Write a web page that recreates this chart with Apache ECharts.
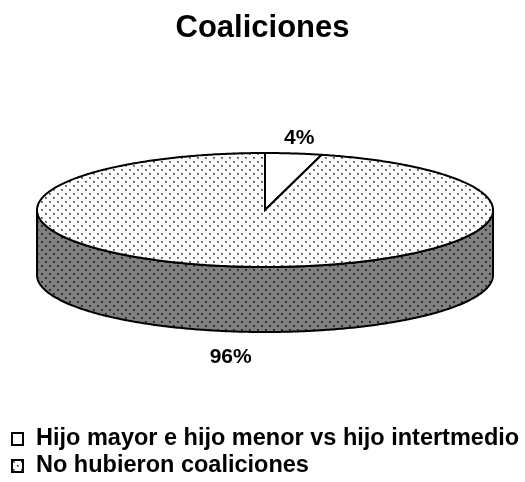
<!DOCTYPE html>
<html>
<head>
<meta charset="utf-8">
<script src="https://cdn.jsdelivr.net/npm/echarts@6/dist/echarts.min.js"></script>
<style>
html,body{margin:0;padding:0;background:#fff;}
#chart{width:525px;height:482px;}
</style>
</head>
<body>
<div id="chart"></div>
<script>
// ---- data ----
const titleText = 'Coaliciones';
const categories = ['Hijo mayor e hijo menor vs hijo intertmedio', 'No hubieron coaliciones'];
const values = [4, 96];

// ---- layout constants (geometry of the 3D pie) ----
const CX = 265, CY = 210, RX = 228, RY = 57, DEPTH = 65;
const FONT = '"Liberation Sans", Arial, Helvetica, sans-serif';

function makePattern(bg, dot, halo) {
  const c = document.createElement('canvas');
  c.width = 8; c.height = 8;
  const g = c.getContext('2d');
  g.fillStyle = bg; g.fillRect(0, 0, 8, 8);
  [[1, 1], [5, 5]].forEach(([x, y]) => {
    g.fillStyle = halo; g.fillRect(x, y, 2, 2);
    g.fillStyle = dot; g.fillRect(x, y, 1, 1);
  });
  return { image: c, repeat: 'repeat' };
}
const topPattern = makePattern('#ffffff', '#333333', '#8a8a8a');
const sidePattern = makePattern('#808080', '#111111', '#3c3c3c');
const topFills = ['#ffffff', topPattern];
const sideFills = ['#ffffff', sidePattern];

const total = values.reduce((a, b) => a + b, 0);

function ept(t) { return [CX + RX * Math.sin(t), CY - RY * Math.cos(t)]; }
function arc(t0, t1) {
  const pts = [];
  const n = Math.max(2, Math.ceil(Math.abs(t1 - t0) / 0.01));
  for (let i = 0; i <= n; i++) pts.push(ept(t0 + (t1 - t0) * i / n));
  return pts;
}

function renderItem(params, api) {
  const idx = params.seriesIndex;
  let before = 0;
  for (let i = 0; i < idx; i++) before += values[i];
  const v = api.value(0);
  const t0 = before / total * 2 * Math.PI;
  const t1 = (before + v) / total * 2 * Math.PI;
  const children = [];
  // side wall (front visible part: 90deg .. 270deg)
  const s0 = Math.max(t0, Math.PI / 2), s1 = Math.min(t1, 3 * Math.PI / 2);
  if (s1 > s0) {
    const topArc = arc(s0, s1);
    const bottomArc = topArc.slice().reverse().map(p => [p[0], p[1] + DEPTH]);
    children.push({
      type: 'polygon',
      shape: { points: topArc.concat(bottomArc) },
      style: { fill: sideFills[idx], stroke: '#000', lineWidth: 2, lineJoin: 'round' }
    });
  }
  // top face
  const pts = [[CX, CY]].concat(arc(t0, t1));
  children.push({
    type: 'polygon',
    shape: { points: pts },
    style: { fill: topFills[idx], stroke: '#000', lineWidth: 2, lineJoin: 'miter' }
  });
  // label
  const tm = (t0 + t1) / 2;
  const s = Math.sin(tm), c = Math.cos(tm);
  const lx = CX + 1.2 * RX * s;
  const ly = c >= 0 ? CY - RY * c - 15 : CY - RY * c + DEPTH + 26;
  children.push({
    type: 'text',
    style: {
      text: Math.round(v / total * 100) + '%',
      x: lx, y: ly, align: 'center', verticalAlign: 'middle',
      fontSize: 21, fontWeight: 'bold', fontFamily: FONT, fill: '#000'
    }
  });
  return { type: 'group', children: children };
}

const chart = echarts.init(document.getElementById('chart'), null, { renderer: 'canvas' });
chart.setOption({
  animation: false,
  backgroundColor: '#ffffff',
  title: {
    text: titleText,
    left: 'center',
    top: 8,
    textStyle: { fontSize: 31, fontWeight: 'bold', fontFamily: FONT, color: '#000' }
  },
  legend: {
    orient: 'vertical',
    left: 11,
    top: 426,
    padding: 0,
    itemWidth: 11,
    itemHeight: 12,
    itemGap: 1,
    icon: 'rect',
    selectedMode: false,
    itemStyle: { borderColor: '#000', borderWidth: 2 },
    textStyle: { fontSize: 23.5, fontWeight: 'bold', fontFamily: FONT, color: '#000', lineHeight: 26, padding: [0, 0, 0, 8] },
    data: categories
  },
  series: categories.map((name, i) => ({
    type: 'custom',
    name: name,
    coordinateSystem: 'none',
    renderItem: renderItem,
    itemStyle: { color: topFills[i], borderColor: '#000', borderWidth: 2 },
    data: [[values[i]]]
  }))
});
</script>
</body>
</html>
